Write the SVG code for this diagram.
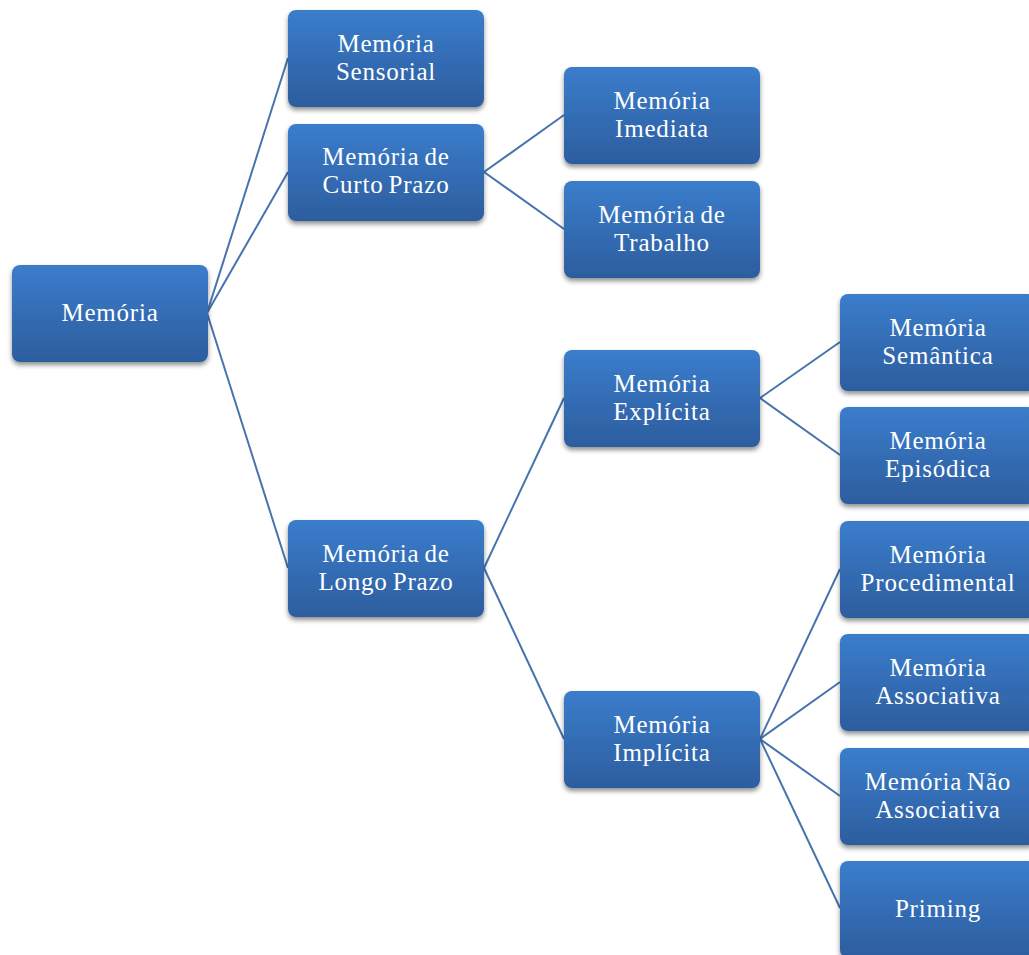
<svg xmlns="http://www.w3.org/2000/svg" width="1029" height="955" viewBox="0 0 1029 955">
<defs>
<linearGradient id="g" x1="0" y1="0" x2="0" y2="1">
<stop offset="0" stop-color="#3b7dcc"/>
<stop offset="1" stop-color="#2c5d9e"/>
</linearGradient>
<filter id="sh" x="-10%" y="-10%" width="125%" height="130%">
<feGaussianBlur in="SourceAlpha" stdDeviation="2.5"/>
<feOffset dx="0" dy="3" result="b"/>
<feComponentTransfer><feFuncA type="linear" slope="0.45"/></feComponentTransfer>
<feMerge><feMergeNode/><feMergeNode in="SourceGraphic"/></feMerge>
</filter>
</defs>
<style>
.box{fill:url(#g);filter:url(#sh)}
text{font-family:"Liberation Serif","Times New Roman",serif;font-size:25px;letter-spacing:0.8px;word-spacing:-2px;fill:#fff;text-anchor:middle}
.c line{stroke:#4673ad;stroke-width:2}
</style>
<rect width="1029" height="955" fill="#fff"/>
<g class="c">
<line x1="207" y1="313" x2="288" y2="58"/>
<line x1="207" y1="313" x2="288" y2="172"/>
<line x1="207" y1="313" x2="288" y2="568"/>
<line x1="484" y1="172" x2="564" y2="115"/>
<line x1="484" y1="172" x2="564" y2="229"/>
<line x1="484" y1="568" x2="564" y2="398"/>
<line x1="484" y1="568" x2="564" y2="739"/>
<line x1="760" y1="398" x2="840" y2="342"/>
<line x1="760" y1="398" x2="840" y2="455"/>
<line x1="760" y1="739" x2="840" y2="569"/>
<line x1="760" y1="739" x2="840" y2="682"/>
<line x1="760" y1="739" x2="840" y2="796"/>
<line x1="760" y1="739" x2="840" y2="908"/>
</g>
<g id="n-memoria"><rect class="box" x="12" y="265" width="196" height="97" rx="8"/><text x="110" y="321">Memória</text></g>
<g id="n-sensorial"><rect class="box" x="288" y="10" width="196" height="97" rx="8"/><text x="386" y="52">Memória</text><text x="386" y="80">Sensorial</text></g>
<g id="n-curto"><rect class="box" x="288" y="124" width="196" height="97" rx="8"/><text x="386" y="165">Memória de</text><text x="386" y="193">Curto Prazo</text></g>
<g id="n-imediata"><rect class="box" x="564" y="67" width="196" height="97" rx="8"/><text x="662" y="109">Memória</text><text x="662" y="137">Imediata</text></g>
<g id="n-trabalho"><rect class="box" x="564" y="181" width="196" height="97" rx="8"/><text x="662" y="223">Memória de</text><text x="662" y="251">Trabalho</text></g>
<g id="n-longo"><rect class="box" x="288" y="520" width="196" height="97" rx="8"/><text x="386" y="562">Memória de</text><text x="386" y="590">Longo Prazo</text></g>
<g id="n-explicita"><rect class="box" x="564" y="350" width="196" height="97" rx="8"/><text x="662" y="392">Memória</text><text x="662" y="420">Explícita</text></g>
<g id="n-implicita"><rect class="box" x="564" y="691" width="196" height="97" rx="8"/><text x="662" y="733">Memória</text><text x="662" y="761">Implícita</text></g>
<g id="n-semantica"><rect class="box" x="840" y="294" width="196" height="97" rx="8"/><text x="938" y="336">Memória</text><text x="938" y="364">Semântica</text></g>
<g id="n-episodica"><rect class="box" x="840" y="407" width="196" height="97" rx="8"/><text x="938" y="449">Memória</text><text x="938" y="477">Episódica</text></g>
<g id="n-procedimental"><rect class="box" x="840" y="521" width="196" height="97" rx="8"/><text x="938" y="563">Memória</text><text x="938" y="591">Procedimental</text></g>
<g id="n-associativa"><rect class="box" x="840" y="634" width="196" height="97" rx="8"/><text x="938" y="676">Memória</text><text x="938" y="704">Associativa</text></g>
<g id="n-naoassociativa"><rect class="box" x="840" y="748" width="196" height="97" rx="8"/><text x="938" y="790">Memória Não</text><text x="938" y="818">Associativa</text></g>
<g id="n-priming"><rect class="box" x="840" y="861" width="196" height="97" rx="8"/><text x="938" y="917">Priming</text></g>
</svg>
